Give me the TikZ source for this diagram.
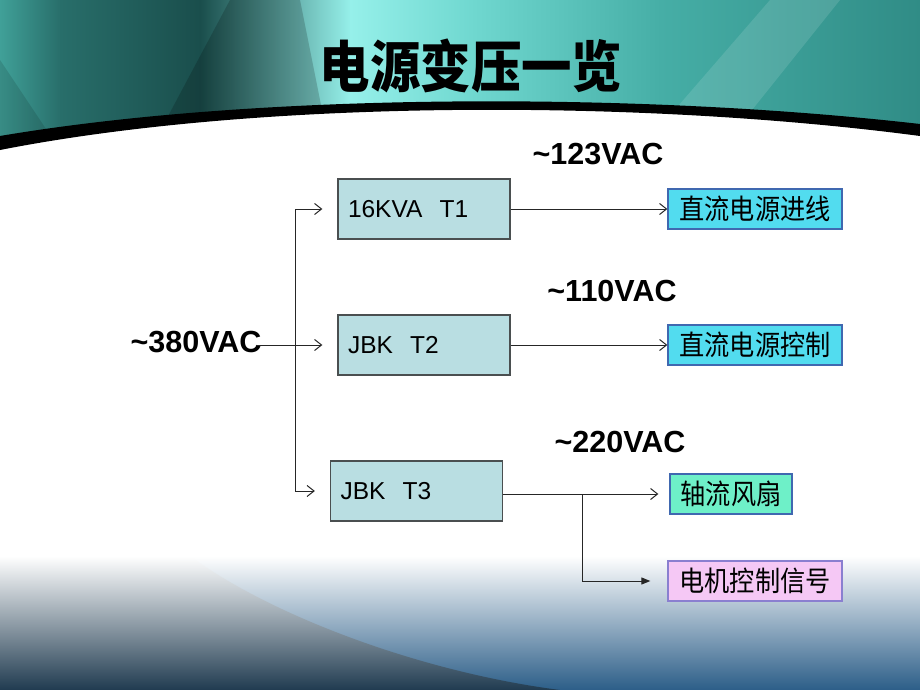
\documentclass[tikz,border=0pt]{standalone}
\usepackage{fontspec}
\setmainfont{Liberation Sans}
\newfontfamily\cjk[FakeStretch=0.9]{Noto Sans CJK SC}
\newfontfamily\cjktitle[FakeStretch=0.9]{Noto Sans CJK SC}
\usetikzlibrary{arrows.meta}
\definecolor{tfill}{HTML}{B9DEE2}
\definecolor{boxline}{HTML}{4A4F50}
\definecolor{cyanfill}{HTML}{52DCEF}
\definecolor{fanfill}{HTML}{6EF0C8}
\definecolor{sigfill}{HTML}{F5C8F5}
\definecolor{blueline}{HTML}{4068B0}
\definecolor{purpline}{HTML}{8A7FD0}
\definecolor{botblue}{HTML}{2C5E88}
\definecolor{botdark}{HTML}{203B50}
\tikzset{
  tbox/.style={draw=boxline, line width=1.3pt, fill=tfill, minimum width=172pt,
    minimum height=60pt, text width=152pt, inner xsep=10pt, align=left,
    font=\fontsize{24.5}{27}\selectfont},
  obox/.style={draw=blueline, line width=1.3pt, minimum height=40pt, inner xsep=4pt,
    font=\cjk\fontsize{28}{30}\selectfont},
  volt/.style={inner sep=0pt, font=\fontsize{30.5}{32}\selectfont\bfseries},
  wire/.style={draw=black!85, line width=1pt},
  arr/.style={wire, -{Straight Barb[length=7pt,width=11pt]}},
  farr/.style={wire, -{Triangle[length=9pt,width=7pt]}}
}
\begin{document}
\begin{tikzpicture}[x=1pt,y=-1pt]
\useasboundingbox (0,0) rectangle (920,690);
\fill[white] (0,0) rectangle (920,690);
% header
\begin{scope}
  \clip (0,0) -- (920,0) -- (920,126) .. controls (640,93) and (260,93) .. (0,138) -- cycle;
  \shade[left color={rgb,255:red,64;green,160;blue,152}, right color={rgb,255:red,40;green,110;blue,106}] (0,0) rectangle (61,150);
  \shade[left color={rgb,255:red,40;green,110;blue,106}, right color={rgb,255:red,26;green,78;blue,76}] (60,0) rectangle (201,150);
  \shade[left color={rgb,255:red,26;green,78;blue,76}, right color={rgb,255:red,150;green,240;blue,234}] (200,0) rectangle (351,150);
  \shade[left color={rgb,255:red,150;green,240;blue,234}, right color={rgb,255:red,112;green,216;blue,208}] (350,0) rectangle (471,150);
  \shade[left color={rgb,255:red,112;green,216;blue,208}, right color={rgb,255:red,70;green,174;blue,166}] (470,0) rectangle (661,150);
  \shade[left color={rgb,255:red,70;green,174;blue,166}, right color={rgb,255:red,48;green,140;blue,134}] (660,0) rectangle (920,150);
  \fill[black, opacity=0.18] (150,150) -- (230,0) -- (300,0) -- (330,150) -- cycle;
  \fill[white, opacity=0.12] (770,0) -- (840,0) -- (720,150) -- (640,150) -- cycle;
  \fill[black, opacity=0.12] (0,60) -- (60,150) -- (0,150) -- cycle;
\end{scope}
\fill[black] (0,136) .. controls (260,92) and (640,92) .. (920,124) -- (920,136)
   .. controls (640,99) and (260,99) .. (0,150) -- cycle;
% title
\node[font=\cjktitle\bfseries\fontsize{56}{60}\selectfont] (title) at (471,66) {电源变压一览};
% bottom
\shade[top color=white, bottom color=botblue] (0,556) rectangle (920,690);
\shade[top color=white, bottom color=botdark] (0,556) -- (190,556) .. controls (270,615) and (420,672) .. (560,690) -- (0,690) -- cycle;
% boxes
\node[tbox] (T1) at (424,209) {16KVA\hspace{0.7em}T1};
\node[tbox] (T2) at (424,345) {JBK\hspace{0.7em}T2};
\node[tbox] (T3) at (416.5,491) {JBK\hspace{0.7em}T3};
\node[obox, fill=cyanfill, minimum width=174pt] (out1) at (755,209) {直流电源进线};
\node[obox, fill=cyanfill, minimum width=174pt] (out2) at (755,345) {直流电源控制};
\node[obox, fill=fanfill, minimum width=122pt] (fan) at (731,494) {轴流风扇};
\node[obox, draw=purpline, fill=sigfill, minimum width=174pt] (sig) at (755,581) {电机控制信号};
% voltage labels
\node[volt] (v123) at (598,154) {\textasciitilde123VAC};
\node[volt] (v110) at (612,291) {\textasciitilde110VAC};
\node[volt] (v220) at (620,442) {\textasciitilde220VAC};
\node[volt] (v380) at (196,342) {\textasciitilde380VAC};
% connectors
\coordinate (j1) at (295,209);
\coordinate (j3) at (295,491);
\coordinate (br) at (582,494);
\draw[wire] (j1) -- (j3);
\draw[arr, shorten >=15pt] ([xshift=-6pt]v380.east |- T2.west) -- (T2.west);
\draw[arr, shorten >=15pt] (j1) -- (T1.west);
\draw[arr, shorten >=15pt] (j3) -- (T3.west);
\draw[arr] (T1.east) -- (out1.west);
\draw[arr] (T2.east) -- (out2.west);
\draw[arr, shorten >=11pt] (T3.east |- fan.west) -- (fan.west);
\draw[farr, shorten >=17pt] (br) |- (sig.west);
\end{tikzpicture}
\end{document}
